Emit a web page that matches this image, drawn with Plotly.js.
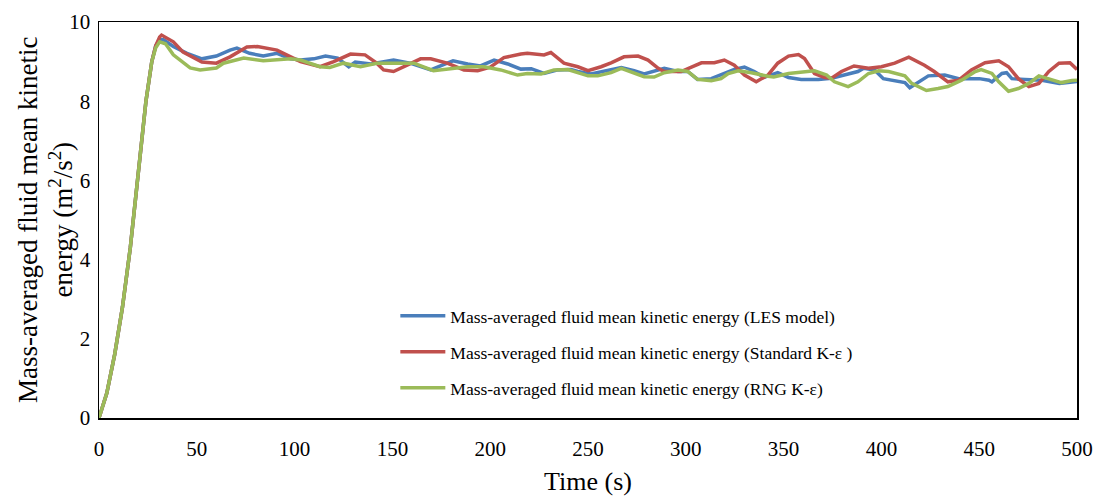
<!DOCTYPE html>
<html>
<head>
<meta charset="utf-8">
<script src="https://cdn.plot.ly/plotly-3.0.1.min.js"></script>
<style>html,body{margin:0;padding:0;background:#fff;}#chart{width:1105px;height:500px;}</style>
</head>
<body>
<div id="chart"></div>
<script>
// Time (s) and mass-averaged fluid mean kinetic energy (m2/s2) per model
var lesTime = [0,4,8,12,16,20,24,27,29,31,33,38,45,52.6,60,67,70.5,77,84,91,98,103,109.8,115.8,122,127.7,131,139,145.5,150.6,159,169.6,178,181,188.5,195,202,209,215.7,221,227.5,234.6,241.3,244.8,251.5,260,267,273.6,278.7,289,296,301,306,313,318,324.8,330,335,340,347,352.5,359,367.8,374.5,381,388,391,396.5,401,406.8,412,414.5,419,424,432.4,439.5,450,455,456.5,461.6,464,466.7,473.4,482,491,497.4,500];
var lesKE   = [0,0.63,1.6,2.8,4.3,6.2,8.0,9.0,9.4,9.55,9.55,9.38,9.21,9.07,9.14,9.29,9.34,9.21,9.14,9.21,9.07,9.04,9.07,9.14,9.09,8.87,8.99,8.94,9.0,9.04,8.96,8.79,8.96,9.02,8.94,8.89,9.04,8.94,8.81,8.82,8.70,8.79,8.80,8.75,8.69,8.77,8.85,8.77,8.69,8.83,8.75,8.75,8.55,8.57,8.66,8.80,8.86,8.75,8.60,8.72,8.60,8.55,8.55,8.58,8.66,8.75,8.83,8.79,8.57,8.52,8.47,8.34,8.49,8.64,8.66,8.57,8.57,8.53,8.49,8.70,8.72,8.57,8.55,8.53,8.45,8.49,8.50];

var skeTime = [0,4,8,12,16,20,24,27,29,31,32,38,43,52.6,60,67,75.6,81,91,98,103,113,120,128.6,136,142,145.5,150.6,157.6,164.4,169.6,178,186.6,193.6,200,207,215.7,219,227.5,231,237.7,244.8,250,256.7,261.8,268.4,275.6,280.7,285.9,289,297.6,302.8,308,314.6,319.7,324.8,330,336,342,347,352.5,357.6,360.7,365.8,371,374.5,379.6,386,393.4,400,406.8,414,422,427,434,439.5,446,453,460,465,470,475.4,480.5,485.6,490.8,496.4,500];
var skeKE   = [0,0.63,1.6,2.8,4.3,6.2,8.0,9.0,9.4,9.62,9.67,9.50,9.24,8.99,8.96,9.12,9.37,9.38,9.29,9.12,9.0,8.87,9.0,9.19,9.17,8.96,8.79,8.75,8.91,9.07,9.07,8.96,8.79,8.77,8.86,9.10,9.19,9.21,9.17,9.23,8.96,8.87,8.77,8.87,8.97,9.12,9.14,9.04,8.83,8.75,8.75,8.87,8.97,8.97,9.04,8.91,8.66,8.49,8.66,8.96,9.14,9.18,9.08,8.70,8.60,8.58,8.75,8.89,8.83,8.87,8.96,9.11,8.91,8.75,8.49,8.53,8.79,8.97,9.02,8.87,8.57,8.37,8.45,8.75,8.96,8.97,8.80];

var rngTime = [0,4,8,12,16,20,24,27,29,31,34,38,46.6,51.7,60,63.6,74,84,98,103,113,118,125,133.7,142,150.6,161,171,180,188.5,196.7,205.4,214,219,226,232.6,239.7,244.8,250,255,261.8,267,273.6,278.7,283.8,289,296,301,306,313,318,321.7,326.8,333.5,342,345,352.5,360.7,365.8,372,376,383,388,393.4,398.6,403.7,410,412,415.5,419,423,429,434,441,448,451,456.5,460,465,470,475.4,480.5,485.6,492,497.4,500];
var rngKE   = [0,0.63,1.6,2.8,4.3,6.2,8.0,9.0,9.35,9.5,9.45,9.17,8.84,8.79,8.84,8.96,9.09,9.02,9.07,9.04,8.87,8.85,8.96,8.87,8.96,8.96,8.96,8.77,8.83,8.87,8.87,8.79,8.66,8.70,8.69,8.79,8.80,8.72,8.64,8.64,8.72,8.83,8.72,8.62,8.61,8.72,8.79,8.75,8.55,8.52,8.57,8.70,8.77,8.72,8.63,8.61,8.70,8.75,8.77,8.66,8.49,8.37,8.49,8.70,8.77,8.75,8.66,8.64,8.45,8.37,8.27,8.32,8.37,8.53,8.75,8.80,8.70,8.49,8.25,8.32,8.45,8.64,8.57,8.47,8.52,8.53];

var seriesNames = [
  "Mass-averaged fluid mean kinetic energy (LES model)",
  "Mass-averaged fluid mean kinetic energy (Standard K-\u03b5 )",
  "Mass-averaged fluid mean kinetic energy (RNG K-\u03b5)"
];
var seriesColors = ["#4A7EBB", "#C0504D", "#9BBB59"];
var yTitle = "Mass-averaged fluid mean kinetic<br>energy (m<sup>2</sup>/s<sup>2</sup>)";
var xTitle = "Time (s)";

var FONT = "Liberation Serif";

var traces = [
  {x: lesTime, y: lesKE, name: seriesNames[0], type: "scatter", mode: "lines", line: {color: seriesColors[0], width: 3.5}, legend: "legend"},
  {x: skeTime, y: skeKE, name: seriesNames[1], type: "scatter", mode: "lines", line: {color: seriesColors[1], width: 3.5}, legend: "legend2"},
  {x: rngTime, y: rngKE, name: seriesNames[2], type: "scatter", mode: "lines", line: {color: seriesColors[2], width: 3.5}, legend: "legend3"}
];

function legendAt(yc) {
  return {
    x: 0.303, y: yc, xanchor: "left", yanchor: "middle",
    bgcolor: "rgba(255,255,255,0)", borderwidth: 0,
    font: {family: FONT, size: 17.5, color: "#000"},
    itemwidth: 45
  };
}

var layout = {
  width: 1105, height: 500,
  margin: {l: 99, r: 28, t: 22, b: 82},
  paper_bgcolor: "#fff", plot_bgcolor: "#fff",
  font: {family: FONT, color: "#000", size: 21},
  showlegend: true,
  legend: legendAt(0.258),
  legend2: legendAt(0.167),
  legend3: legendAt(0.076),
  xaxis: {
    range: [0, 500], dtick: 50, tick0: 0,
    showgrid: false, zeroline: false,
    showline: true, linecolor: "#000", linewidth: 1.5, mirror: true,
    ticks: "", ticklabelstandoff: 11,
    tickfont: {family: FONT, size: 21, color: "#000"},
    title: {text: xTitle, font: {family: FONT, size: 26, color: "#000"}, standoff: 12}
  },
  yaxis: {
    range: [0, 10], dtick: 2, tick0: 0,
    showgrid: false, zeroline: false,
    showline: true, linecolor: "#000", linewidth: 1.5, mirror: true,
    ticks: "", ticklabelstandoff: 3,
    tickfont: {family: FONT, size: 21, color: "#000"},
    title: {text: ""}
  },
  annotations: [{
    text: yTitle, xref: "paper", yref: "paper",
    x: -0.0552, y: 0.5, xanchor: "center", yanchor: "middle",
    textangle: -90, showarrow: false, align: "center",
    font: {family: FONT, size: 27, color: "#000"}
  }]
};

Plotly.newPlot("chart", traces, layout, {displayModeBar: false, staticPlot: true});
</script>
</body>
</html>
